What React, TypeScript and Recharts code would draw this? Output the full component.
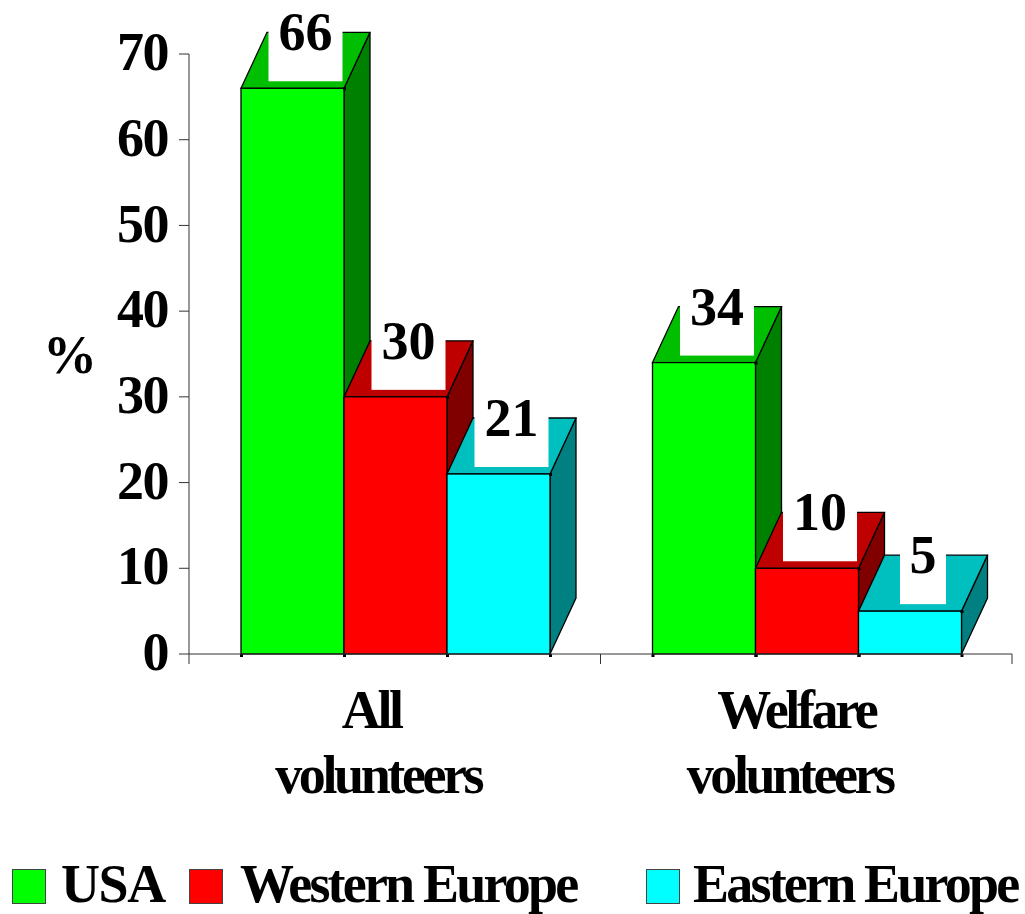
import React from 'react';
import { BarChart, Bar, XAxis, YAxis, Legend, LabelList, Label } from 'recharts';

const categories = ['All volunteers', 'Welfare volunteers'];
const usa = [66, 34];
const westernEurope = [30, 10];
const easternEurope = [21, 5];
const yTicks = [0, 10, 20, 30, 40, 50, 60, 70];

const chartData = categories.map((name, i) => ({
  name,
  usa: usa[i],
  west: westernEurope[i],
  east: easternEurope[i],
}));

const FONT = '"Liberation Serif", "Times New Roman", serif';
const WIDTH = 1025;
const HEIGHT = 914;
const PLOT_LEFT = 189;
const PLOT_RIGHT = 1012;
const PLOT_TOP = 54;
const PLOT_BOTTOM = 654;
const AXIS_COLOR = '#333';

// 3D extrusion of each column
const DEPTH_X = 26;
const DEPTH_Y = 56;

const LEGEND_SWATCH_X = [12, 189, 646];
const LEGEND_TEXT_X = [61, 240, 693];
const LEGEND_SPACING = [-1.4, -2.8, -2.8];

// per-line horizontal nudges of the two-line category labels
const LINE_NUDGE = [
  [-23.5, -16.5],
  [-10, -16.5],
];

function Column3D(props: any) {
  const { x, y, width, height, fill, topFill, sideFill } = props;
  const right = x + width;
  const bottom = y + height;
  const top = `${x},${y} ${right},${y} ${right + DEPTH_X},${y - DEPTH_Y} ${x + DEPTH_X},${y - DEPTH_Y}`;
  const side = `${right},${y} ${right + DEPTH_X},${y - DEPTH_Y} ${right + DEPTH_X},${bottom - DEPTH_Y} ${right},${bottom}`;
  return (
    <g stroke="#000" strokeWidth={1.3}>
      <polygon points={side} fill={sideFill} />
      <polygon points={top} fill={topFill} />
      <rect x={x} y={y} width={width} height={height} fill={fill} />
      <rect x={right - 1} y={y - 1} width={3} height={3} fill="#000" stroke="none" />
      <rect x={x - 1} y={bottom} width={3} height={3} fill="#000" stroke="none" />
      <rect x={right - 1} y={bottom} width={3} height={3} fill="#000" stroke="none" />
    </g>
  );
}

// White plate behind the value, sitting on the column's top face
function ValueLabel(props: any) {
  const { x, y, width, value } = props;
  const cx = x + width / 2 + DEPTH_X / 2;
  const boxW = String(value).length > 1 ? 74 : 46;
  return (
    <g>
      <rect x={cx - boxW / 2} y={y - 59} width={boxW} height={52} fill="#fff" />
      <text x={cx} y={y - 38} textAnchor="middle" fontFamily={FONT} fontWeight="bold" fontSize={54} fill="#000">
        {value}
      </text>
    </g>
  );
}

function CategoryTick(props: any) {
  const { x, y, payload, index } = props;
  const half = (PLOT_RIGHT - PLOT_LEFT) / categories.length / 2;
  const lines = String(payload.value).split(' ');
  return (
    <g>
      <line x1={x - half} x2={x - half} y1={y} y2={y + 10} stroke={AXIS_COLOR} />
      <line x1={x + half} x2={x + half} y1={y} y2={y + 10} stroke={AXIS_COLOR} />
      {lines.map((line, i) => (
        <text
          key={line}
          x={x + LINE_NUDGE[index][i]}
          y={y + 74 + i * 65}
          textAnchor="middle"
          fontFamily={FONT}
          fontWeight="bold"
          fontSize={54}
          letterSpacing={-3.4}
          fill="#000"
        >
          {line}
        </text>
      ))}
    </g>
  );
}

function LegendRow(props: any) {
  return (
    <div style={{ position: 'relative', width: WIDTH, height: 50 }}>
      {props.payload.map((entry: any, i: number) => (
        <React.Fragment key={entry.value}>
          <div
            style={{
              position: 'absolute',
              left: LEGEND_SWATCH_X[i],
              top: 9,
              width: 34,
              height: 35,
              background: entry.color,
              border: '1.5px solid #444',
              boxSizing: 'border-box',
            }}
          />
          <span
            style={{
              position: 'absolute',
              left: LEGEND_TEXT_X[i],
              top: -2,
              fontFamily: FONT,
              fontWeight: 'bold',
              fontSize: 54,
              lineHeight: '52px',
              letterSpacing: LEGEND_SPACING[i],
              whiteSpace: 'nowrap',
              color: '#000',
            }}
          >
            {entry.value}
          </span>
        </React.Fragment>
      ))}
    </div>
  );
}

export default function App() {
  return (
    <div style={{ position: 'absolute', left: 0, top: 0, width: WIDTH, height: HEIGHT, overflow: 'hidden', background: '#fff' }}>
      <BarChart
        width={WIDTH}
        height={HEIGHT}
        data={chartData}
        barCategoryGap={52}
        barGap={0}
        margin={{ top: PLOT_TOP, right: WIDTH - PLOT_RIGHT, bottom: 0, left: 0 }}
      >
        <XAxis
          dataKey="name"
          height={HEIGHT - PLOT_BOTTOM}
          interval={0}
          tickLine={false}
          tickSize={0}
          tickMargin={0}
          stroke={AXIS_COLOR}
          tick={CategoryTick}
        />
        <YAxis
          width={PLOT_LEFT}
          domain={[0, 70]}
          ticks={yTicks}
          interval={0}
          tickSize={10}
          tickMargin={11}
          stroke={AXIS_COLOR}
          tick={{ fontFamily: FONT, fontWeight: 'bold', fontSize: 54, fill: '#000', letterSpacing: -1.5, dy: -3 }}
        >
          <Label
            value="%"
            position="insideLeft"
            offset={43}
            style={{ fontFamily: FONT, fontWeight: 'bold', fontSize: 54, fill: '#000' }}
          />
        </YAxis>
        <Legend
          layout="horizontal"
          verticalAlign="middle"
          align="center"
          itemSorter={null}
          content={LegendRow}
          wrapperStyle={{ left: 0, top: 860, width: WIDTH }}
        />
        <Bar
          dataKey="usa"
          name="USA"
          fill="#00ff00"
          isAnimationActive={false}
          shape={(p: any) => <Column3D {...p} topFill="#00bf00" sideFill="#008000" />}
        >
          <LabelList dataKey="usa" content={ValueLabel} />
        </Bar>
        <Bar
          dataKey="west"
          name="Western Europe"
          fill="#ff0000"
          isAnimationActive={false}
          shape={(p: any) => <Column3D {...p} topFill="#bf0000" sideFill="#800000" />}
        >
          <LabelList dataKey="west" content={ValueLabel} />
        </Bar>
        <Bar
          dataKey="east"
          name="Eastern Europe"
          fill="#00ffff"
          isAnimationActive={false}
          shape={(p: any) => <Column3D {...p} topFill="#00bfbf" sideFill="#008080" />}
        >
          <LabelList dataKey="east" content={ValueLabel} />
        </Bar>
      </BarChart>
    </div>
  );
}
